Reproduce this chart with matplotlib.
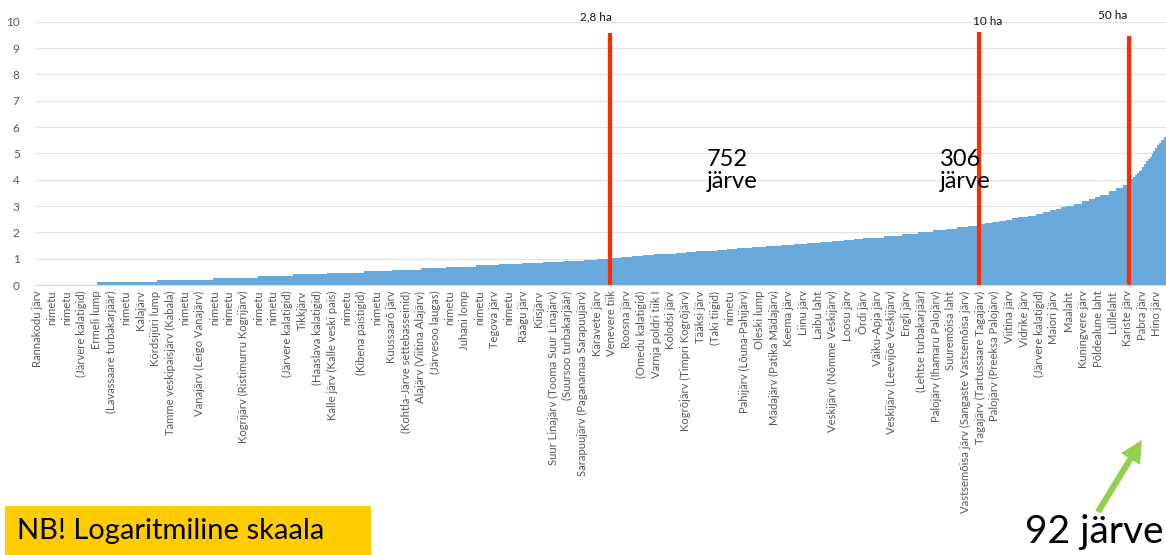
import numpy as np
import matplotlib.pyplot as plt
from matplotlib.patches import Rectangle

# lake area classes (ha), smallest first, and number of lakes in each class
area_ha = [1.0, 1.1, 1.2, 1.3, 1.4, 1.5, 1.6, 1.7, 1.8, 1.9, 2.0, 2.1, 2.2, 2.3, 2.4, 2.5, 2.6, 2.7,
           2.8, 2.9, 3.0, 3.1, 3.2, 3.3, 3.4, 3.5, 3.6, 3.7, 3.8, 3.9,
           4.0, 4.2, 4.4, 4.6, 4.8, 5.0, 5.2, 5.4, 5.6, 5.8,
           6.0, 6.5, 7.0, 7.5, 8.0, 8.5, 9.0, 9.5,
           10, 10.5, 11, 11.5, 12, 12.5, 13, 14, 15, 16, 17, 18, 19,
           20, 22, 24, 26, 28, 30, 35, 40, 45,
           50, 55, 60, 65, 70, 75, 80, 90, 100, 110, 120, 130, 145, 160, 180,
           200, 220, 250, 280, 320, 380, 450, 550, 700, 950, 1300, 2000]
n_lakes = [122, 122, 114, 92, 71, 69, 75, 57, 60, 50, 62, 46, 47, 43, 41, 43, 26, 25,
           23, 23, 22, 23, 22, 22, 21, 21, 21, 21, 21, 20,
           30, 30, 29, 28, 26, 26, 25, 24, 20, 19,
           42, 38, 32, 30, 26, 24, 22, 21,
           14, 14, 14, 13, 13, 13, 19, 17, 15, 13, 12, 11, 10,
           17, 16, 14, 12, 10, 18, 15, 14, 12,
           4, 4, 4, 4, 4, 4, 4, 4, 4, 4, 4, 3, 3, 4, 4,
           4, 4, 5, 5, 3, 3, 3, 2, 2, 1, 1, 1]

# every 30th lake gets its name on the axis
lake_names = [
    "Rannakodu järv", "nimetu", "nimetu", "(Järvere kalatigid)", "Ermeli lump",
    "(Lavassaare turbakarjäär)", "nimetu", "Kalajärv", "Kördsijüri lump",
    "Tamme veskipaisjärv (Kabala)", "nimetu", "Vanajärv (Leigo Vanajärv)", "nimetu", "nimetu",
    "Kogrijärv (Ristimurru Kogrijärv)", "nimetu", "nimetu", "(Järvere kalatigid)",
    "Tikkjärv", "(Haaslava kalatigid)", "Kalle järv (Kalle veski pais)", "nimetu",
    "(Kibena paistigid)", "nimetu", "Kuussaarõ järv", "(Kohtla-Järve settebasseinid)",
    "Alajärv (Viitina Alajärv)", "(Järvesoo laugas)", "nimetu", "Juhani lomp", "nimetu",
    "Tegova järv", "nimetu", "Räägu järv", "Kiisjärv", "Suur Linajärv (Tooma Suur Linajärv)",
    "(Suursoo turbakarjäär)", "Sarapuujärv (Paganamaa Sarapuujärv)",
    "Käravete järv", "Venevere tiik", "Roosna järv", "(Omedu kalatigid)", "Varnja poldri tiik I",
    "Kolodsi järv", "Kogrõjärv (Timpri Kogrõjärv)", "Tääksi järv", "(Taki tiigid)", "nimetu",
    "Pahijärv (Lõuna-Pahijärv)", "Oleski lump", "Mädajärv (Patika Mädajärv)", "Keema järv",
    "Liinu järv", "Laibu laht", "Veskijärv (Nõmme Veskijärv)", "Loosu järv", "Õrdi järv",
    "Väiku-Apja järv", "Veskijärv (Leevijõe Veskijärv)", "Engli järv", "(Lehtse turbakarjäär)",
    "Palojärv (Ihamaru Palojärv)", "Suuremõisa laht", "Vastsemõisa järv (Sangaste Vastsemõisa järv)",
    "Tagajärv (Tartussaare Tagajärv)", "Palojärv (Preeksa Palojärv)", "Viitina järv",
    "Vidrike järv", "(Järvere kalatigid)", "Maiori järv", "Maalaht", "Kuningvere järv",
    "Põldealune laht", "Lüllelaht", "Kariste järv", "Pabra järv", "Hino järv"]

limits_ha = [2.8, 10, 50]
limit_text = ["2,8 ha", "10 ha", "50 ha"]

plt.rcParams['font.family'] = ['Lato', 'DejaVu Sans']

areas = np.repeat(area_ha, n_lakes)
vals = np.log(areas)
idx = np.arange(len(vals))

W, H = 1166, 555
fig = plt.figure(figsize=(W / 100, H / 100), dpi=100)
ax = fig.add_axes([35 / W, (H - 285) / H, (W - 35) / W, (285 - 21.7) / H])

px_per_bar = 0.491
ax.set_xlim(-(37.5 - 35) / px_per_bar, (W - 37.5) / px_per_bar)
ax.set_ylim(0, 10)

ax.bar(idx, vals, width=1.0, color='#6aa9db', linewidth=0, antialiased=False, zorder=2)

ax.set_yticks(range(0, 11))
ax.grid(axis='y', color='#e3e3e3', linewidth=0.9, zorder=0)
ax.set_axisbelow(True)
for s in ['top', 'right', 'left']:
    ax.spines[s].set_visible(False)
ax.spines['bottom'].set_color('#d9d9d9')
ax.tick_params(axis='y', length=0, pad=11, labelsize=8.5, labelcolor='#595959')

step = 30
ax.set_xticks(idx[::step][:len(lake_names)])
ax.set_xticklabels(lake_names, rotation=90, fontsize=8.1, color='#595959', va='top', ha='center')
ax.tick_params(axis='x', length=0, pad=4)

# size thresholds
tops = [9.57, 9.6, 9.46]
text_dx = [-28, 18, -33]
text_y = [10.18, 9.99, 10.22]
for lim, lab, top, dx, ty in zip(limits_ha, limit_text, tops, text_dx, text_y):
    pos = np.argmax(areas >= lim)
    ax.plot([pos, pos], [0, top], color='#ff2a00', linewidth=3, solid_capstyle='butt', zorder=3)
    ax.text(pos + dx, ty, lab, fontsize=8.5, ha='center', va='center', color='#111111',
            clip_on=False)

n_small = int(np.sum((areas >= limits_ha[0]) & (areas < limits_ha[1])))
n_mid = int(np.sum((areas >= limits_ha[1]) & (areas < limits_ha[2])))
n_big = int(np.sum(areas >= limits_ha[2]))

ax.text((707 - 37.5) / px_per_bar, 4.35, f"{n_small}\njärve", fontsize=17,
        ha='left', va='center', linespacing=1.05, zorder=4)
ax.text((940 - 37.5) / px_per_bar, 4.35, f"{n_mid}\njärve", fontsize=17,
        ha='left', va='center', linespacing=1.05, zorder=4)

# note box in the lower left corner
fig.patches.append(Rectangle((5 / W, 0), 366 / W, 49 / H, transform=fig.transFigure,
                             facecolor='#ffcc00', edgecolor='none'))
fig.text(17 / W, 24 / H, "NB! Logaritmiline skaala", fontsize=21, ha='left', va='center')

# arrow to the biggest lakes
ax.annotate("", xy=(1142, H - 440), xycoords='figure pixels',
            xytext=(1098, H - 512), textcoords='figure pixels',
            arrowprops=dict(facecolor='#92d050', edgecolor='none', width=4.5,
                            headwidth=16, headlength=16, shrink=0))
fig.text(1025 / W, 23 / H, f"{n_big} järve", fontsize=28, ha='left', va='center')

fig.savefig('out.png', dpi=100)
